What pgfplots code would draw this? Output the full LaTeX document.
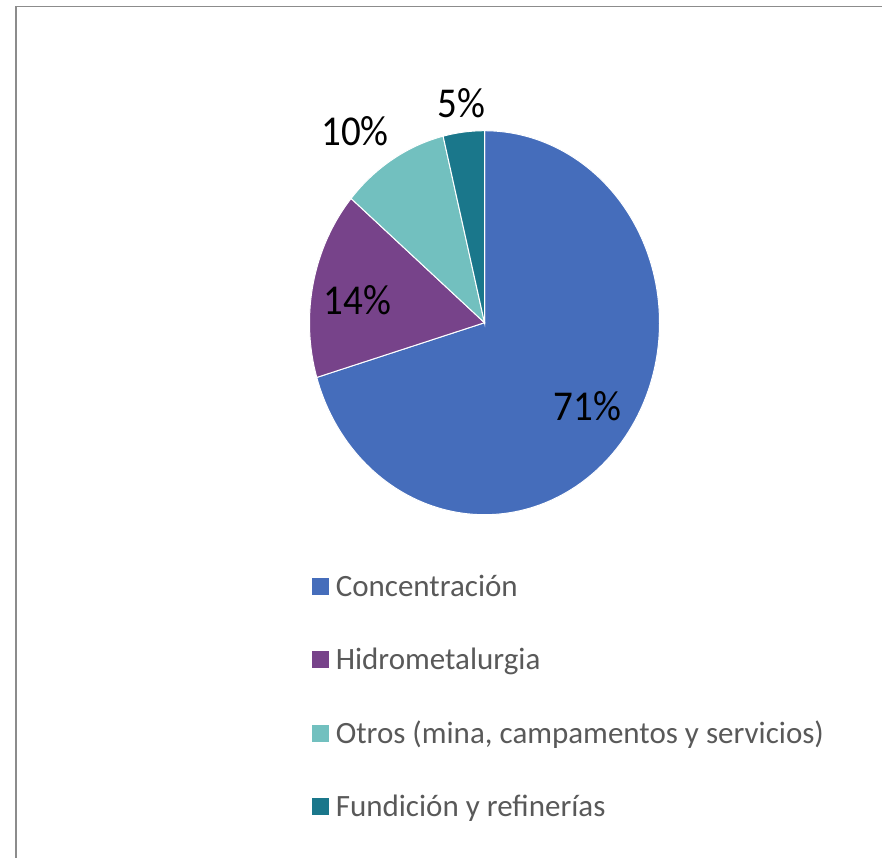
\documentclass[border=0pt]{standalone}
\usepackage{pgfplots}
\usepackage{pgfplotstable}
\pgfplotsset{compat=1.18}
\usepackage{fontspec}
\setmainfont{Carlito}
\usepackage{graphicx}
\definecolor{c1}{HTML}{456DBB}
\definecolor{c2}{HTML}{77438A}
\definecolor{c3}{HTML}{72C0BF}
\definecolor{c4}{HTML}{1A778B}
\definecolor{legtext}{HTML}{595959}
\definecolor{frame}{HTML}{8C8C8C}
\pgfplotstableread{
label value
Concentracion 70.4
Hidrometalurgia 15.8
Otros 10.0
Fundicion 3.8
}\piedata
\begin{document}
\pgfplotstablegetelem{0}{value}\of\piedata \pgfmathsetmacro\aA{90-3.6*\pgfplotsretval}%
\pgfplotstablegetelem{1}{value}\of\piedata \pgfmathsetmacro\aB{\aA-3.6*\pgfplotsretval}%
\pgfplotstablegetelem{2}{value}\of\piedata \pgfmathsetmacro\aC{\aB-3.6*\pgfplotsretval}%
\pgfplotstablegetelem{3}{value}\of\piedata \pgfmathsetmacro\aD{\aC-3.6*\pgfplotsretval}%
\begin{tikzpicture}
\clip (0pt,0pt) rectangle (441pt,-428.5pt);
\draw[frame, line width=0.75pt] (8pt,-3.25pt) rectangle (470pt,-460pt);
\node[anchor=base, font=\bfseries\fontsize{18}{20}\selectfont, text=legtext] at (171.5pt,3.6pt) {g};
\begin{axis}[
  at={(242.25pt,-161.35pt)}, anchor=center,
  width=175pt, height=192pt, scale only axis,
  xmin=-1, xmax=1, ymin=-1, ymax=1,
  hide axis, clip=false,
  legend cell align=left,
  legend image code/.code={\fill[#1, draw=none] (0pt,-3.25pt) rectangle (8.5pt,5.25pt);},
  legend style={draw=none, fill=none, inner sep=0pt, at={(0.006,-0.1544)}, anchor=north west,
    font=\fontsize{15.5}{18}\selectfont, text=legtext,
    nodes={inner sep=0pt, text height=11pt, text depth=3pt},
    column sep=3.4pt, row sep=22.65pt},
]
\addplot[fill=c1, draw=white, line width=0.5pt, domain=\aA:90, samples=150] ({cos(x)},{sin(x)}) -- (axis cs:0,0) -- cycle;
\addlegendentry{Concentración}
\addplot[fill=c2, draw=white, line width=0.5pt, domain=\aB:\aA, samples=60] ({cos(x)},{sin(x)}) -- (axis cs:0,0) -- cycle;
\addlegendentry{Hidrometalurgia}
\addplot[fill=c3, draw=white, line width=0.5pt, domain=\aC:\aB, samples=40] ({cos(x)},{sin(x)}) -- (axis cs:0,0) -- cycle;
\addlegendentry{Otros (mina, campamentos y servicios)}
\addplot[fill=c4, draw=white, line width=0.5pt, domain=\aD:\aC, samples=20] ({cos(x)},{sin(x)}) -- (axis cs:0,0) -- cycle;
\addlegendentry{Fundición y refinerías}
\node[font=\fontsize{19.5}{22}\selectfont] at (axis cs:0.587,-0.434) {\scalebox{1}[1.09]{71\%}};
\node[font=\fontsize{19.5}{22}\selectfont] at (axis cs:-0.725,0.115) {\scalebox{1}[1.09]{14\%}};
\node[font=\fontsize{19.5}{22}\selectfont] at (axis cs:-0.74,0.995) {\scalebox{1}[1.09]{10\%}};
\node[font=\fontsize{19.5}{22}\selectfont] at (axis cs:-0.13,1.143) {\scalebox{1}[1.09]{5\%}};
\end{axis}
\end{tikzpicture}
\end{document}
